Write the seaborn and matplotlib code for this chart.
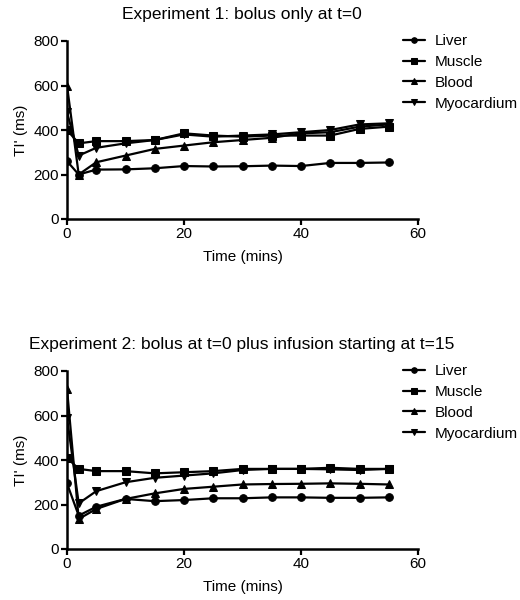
"""Recreate the TI' time-course chart for two bolus experiments."""

import matplotlib
matplotlib.use("Agg")
import matplotlib.pyplot as plt
import pandas as pd
import seaborn as sns

TIME = [0, 2, 5, 10, 15, 20, 25, 30, 35, 40, 45, 50, 55]
TISSUES = ["Liver", "Muscle", "Blood", "Myocardium"]

EXP1_LIVER = [260, 200, 222, 223, 228, 238, 236, 237, 240, 238, 252, 252, 254]
EXP1_MUSCLE = [400, 340, 350, 350, 355, 385, 375, 370, 375, 375, 375, 405, 415]
EXP1_BLOOD = [600, 200, 255, 285, 315, 330, 345, 355, 365, 385, 390, 415, 425]
EXP1_MYO = [480, 285, 320, 340, 355, 380, 370, 375, 380, 390, 400, 425, 430]

EXP2_LIVER = [295, 150, 190, 225, 215, 220, 228, 228, 232, 232, 230, 230, 232]
EXP2_MUSCLE = [410, 360, 350, 350, 340, 345, 350, 360, 360, 360, 365, 360, 360]
EXP2_BLOOD = [720, 135, 180, 225, 250, 270, 280, 290, 292, 293, 295, 293, 290]
EXP2_MYO = [590, 205, 260, 300, 320, 330, 340, 355, 360, 360, 358, 355, 360]

TITLES = [
    "Experiment 1: bolus only at t=0",
    "Experiment 2: bolus at t=0 plus infusion starting at t=15",
]


def to_long(series):
    rows = []
    for name, vals in zip(TISSUES, series):
        for t, v in zip(TIME, vals):
            rows.append({"Time": t, "TI": v, "Tissue": name})
    return pd.DataFrame(rows)


def draw(ax, df, title, top_px):
    fig = ax.figure
    sns.lineplot(
        data=df, x="Time", y="TI", style="Tissue", hue="Tissue",
        palette=["black"] * 4, markers=["o", "s", "^", "v"], dashes=False,
        linewidth=1.6, markersize=5.5, markeredgecolor="black", ax=ax,
    )
    ax.set_xlim(0, 60)
    ax.set_ylim(0, 800)
    ax.set_xticks([0, 20, 40, 60])
    ax.set_yticks([0, 200, 400, 600, 800])
    ax.set_xlabel("Time (mins)", fontsize=11, labelpad=6)
    ax.set_ylabel("TI' (ms)", fontsize=11, labelpad=4)
    ax.tick_params(axis="both", labelsize=11, width=1.6, length=4, direction="out",
                   colors="black", pad=2)
    for side in ("top", "right"):
        ax.spines[side].set_visible(False)
    for side in ("left", "bottom"):
        ax.spines[side].set_linewidth(1.8)
        ax.spines[side].set_color("black")
    ax.grid(False)
    fig.text(242 / 520, 1 - top_px / 600, title, ha="center", va="center",
             fontsize=12.5, color="black")
    handles, labels = ax.get_legend_handles_labels()
    for h in handles:
        h.set_markersize(4)
    ax.legend(handles, labels, loc="upper left",
              bbox_to_anchor=(403 / 520, 1 - (top_px + 20) / 600),
              bbox_transform=fig.transFigure, frameon=False, fontsize=11,
              handlelength=1.45, labelspacing=0.45, handletextpad=0.6,
              borderpad=0, borderaxespad=0)


def main():
    sns.set_theme(style="ticks")
    plt.rcParams["font.family"] = ["Liberation Sans", "DejaVu Sans"]
    plt.rcParams["text.color"] = "black"
    plt.rcParams["axes.labelcolor"] = "black"

    fig = plt.figure(figsize=(5.2, 6.0), dpi=100)
    ax1 = fig.add_axes([67 / 520, 1 - 219 / 600, 351 / 520, 178 / 600])
    ax2 = fig.add_axes([67 / 520, 1 - 549 / 600, 351 / 520, 178 / 600])

    draw(ax1, to_long([EXP1_LIVER, EXP1_MUSCLE, EXP1_BLOOD, EXP1_MYO]), TITLES[0], 14)
    draw(ax2, to_long([EXP2_LIVER, EXP2_MUSCLE, EXP2_BLOOD, EXP2_MYO]), TITLES[1], 344)

    fig.savefig("out.png", dpi=100)
    plt.close(fig)


if __name__ == "__main__":
    main()
